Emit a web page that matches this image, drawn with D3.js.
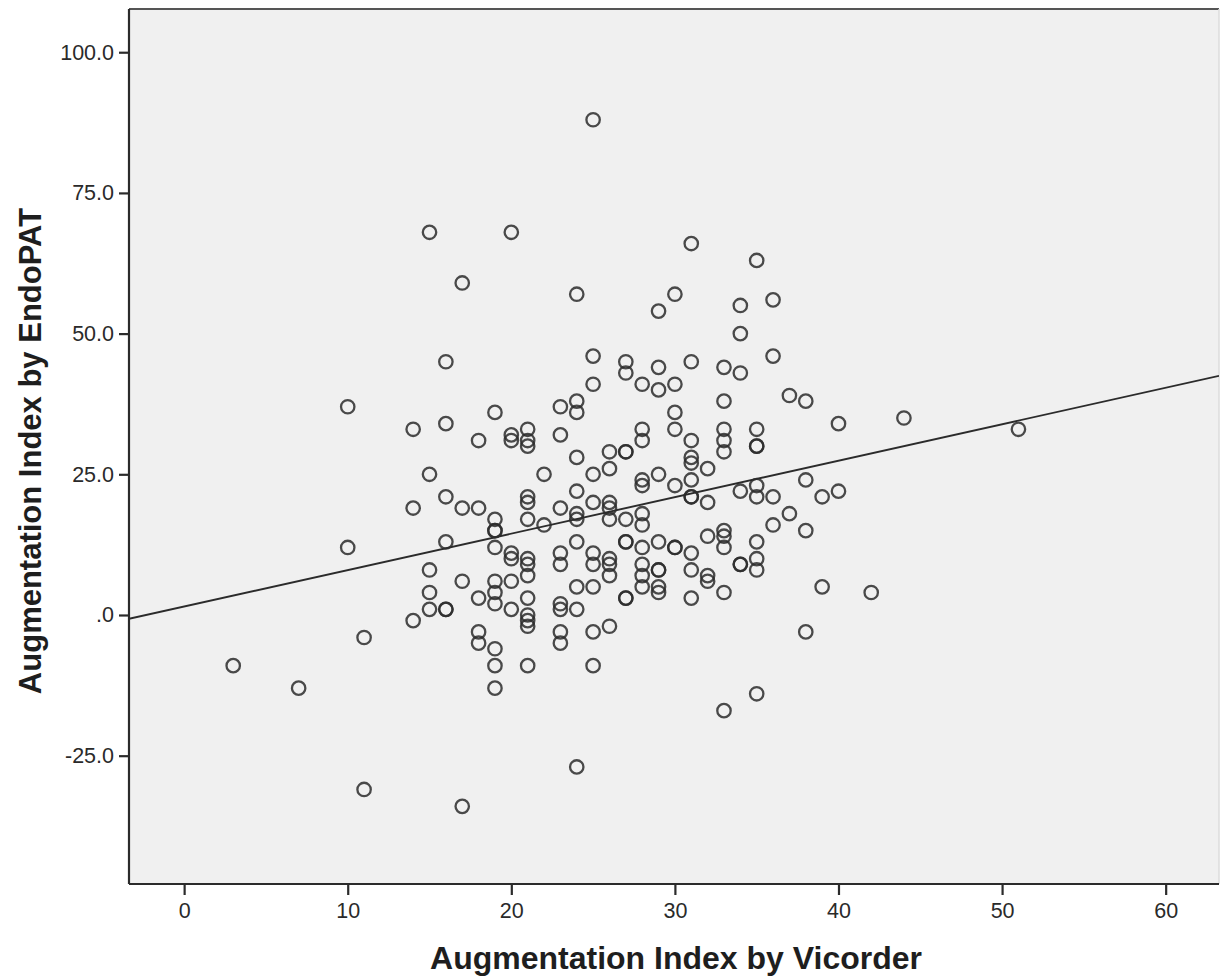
<!DOCTYPE html>
<html>
<head>
<meta charset="utf-8">
<script src="https://cdn.jsdelivr.net/npm/d3@7"></script>
<style>
  html, body { margin: 0; padding: 0; background: #ffffff; }
  svg { display: block; }
</style>
</head>
<body>
<svg id="chart" width="1221" height="977"></svg>
<script>
// Data: [Vicorder AIx, EndoPAT AIx]
const vicorder = [
  3, 7, 10, 10, 11, 11,
  14, 14, 14,
  15, 15, 15, 15, 15,
  16, 16, 16, 16, 16, 16,
  17, 17, 17, 17,
  18, 18, 18, 18, 18,
  19, 19, 19, 19, 19, 19, 19, 19, 19, 19, 19,
  20, 20, 20, 20, 20, 20, 20,
  21, 21, 21, 21, 21, 21, 21, 21, 21, 21, 21, 21, 21, 21,
  22, 22,
  23, 23, 23, 23, 23, 23, 23, 23, 23,
  24, 24, 24, 24, 24, 24, 24, 24, 24, 24, 24,
  25, 25, 25, 25, 25, 25, 25, 25, 25, 25,
  26, 26, 26, 26, 26, 26, 26, 26, 26,
  27, 27, 27, 27, 27, 27, 27, 27, 27,
  28, 28, 28, 28, 28, 28, 28, 28, 28, 28, 28,
  29, 29, 29, 29, 29, 29, 29, 29, 29,
  30, 30, 30, 30, 30, 30, 30,
  31, 31, 31, 31, 31, 31, 31, 31, 31, 31, 31,
  32, 32, 32, 32, 32,
  33, 33, 33, 33, 33, 33, 33, 33, 33, 33,
  34, 34, 34, 34, 34, 34,
  35, 35, 35, 35, 35, 35, 35, 35, 35, 35,
  36, 36, 36, 36,
  37, 37,
  38, 38, 38, 38,
  39, 39,
  40, 40,
  42, 44, 51
];
const endopat = [
  -9, -13, 37, 12, -4, -31,
  33, 19, -1,
  68, 25, 8, 4, 1,
  45, 34, 21, 13, 1, 1,
  59, 19, 6, -34,
  31, 19, 3, -3, -5,
  36, 17, 15, 15, 12, 6, 4, 2, -6, -9, -13,
  68, 32, 31, 11, 10, 6, 1,
  33, 31, 30, 21, 20, 17, 10, 9, 7, 3, 0, -1, -2, -9,
  25, 16,
  37, 32, 19, 11, 9, 2, 1, -3, -5,
  57, 38, 36, 28, 22, 18, 17, 13, 5, 1, -27,
  88, 46, 41, 25, 20, 11, 9, 5, -3, -9,
  29, 26, 20, 19, 17, 10, 9, 7, -2,
  45, 43, 29, 29, 17, 13, 13, 3, 3,
  41, 33, 31, 24, 23, 18, 16, 12, 9, 7, 5,
  54, 44, 40, 25, 13, 8, 8, 5, 4,
  57, 41, 36, 33, 23, 12, 12,
  66, 45, 31, 28, 27, 24, 21, 21, 11, 8, 3,
  26, 20, 14, 7, 6,
  44, 38, 33, 31, 29, 15, 14, 12, 4, -17,
  55, 50, 43, 22, 9, 9,
  63, 33, 30, 30, 23, 21, 13, 10, 8, -14,
  56, 46, 21, 16,
  39, 18,
  38, 24, 15, -3,
  21, 5,
  34, 22,
  4, 35, 33
];
// Fit line: y = intercept + slope * x
const fitIntercept = 1.5;
const fitSlope = 0.648;
const xTicks = [0, 10, 20, 30, 40, 50, 60];
const yTicks = [-25, 0, 25, 50, 75, 100];
const xTitle = "Augmentation Index by Vicorder";
const yTitle = "Augmentation Index by EndoPAT";

const svg = d3.select("#chart");
const pL = 129, pR = 1219, pT = 9, pB = 884;
const x = d3.scaleLinear().domain([-3.37, 63.26]).range([pL, pR]);
const y = d3.scaleLinear().domain([-47.8, 107.68]).range([pB, pT]);

const ink = "#2b2b2b";
const font = "'Liberation Sans', Arial, sans-serif";

// plot background
svg.append("rect")
  .attr("x", pL).attr("y", pT)
  .attr("width", pR - pL).attr("height", pB - pT)
  .attr("fill", "#f0f0f0");

// top & right frame
svg.append("line").attr("x1", pL).attr("x2", pR).attr("y1", pT).attr("y2", pT)
  .attr("stroke", "#555").attr("stroke-width", 2);
svg.append("line").attr("x1", pR).attr("x2", pR).attr("y1", pT).attr("y2", pB)
  .attr("stroke", "#dcdcdc").attr("stroke-width", 1.5);

// clip for data
svg.append("clipPath").attr("id", "clip").append("rect")
  .attr("x", pL).attr("y", pT).attr("width", pR - pL).attr("height", pB - pT);

const plot = svg.append("g").attr("clip-path", "url(#clip)");

// fit line
const [x0, x1] = x.domain();
plot.append("line")
  .attr("x1", x(x0)).attr("y1", y(fitIntercept + fitSlope * x0))
  .attr("x2", x(x1)).attr("y2", y(fitIntercept + fitSlope * x1))
  .attr("stroke", ink).attr("stroke-width", 1.9);

// points
const pts = vicorder.map((v, i) => ({ x: v, y: endopat[i] }));
plot.selectAll("circle.pt").data(pts).enter().append("circle")
  .attr("class", "pt")
  .attr("cx", d => x(d.x)).attr("cy", d => y(d.y))
  .attr("r", 6.7)
  .attr("fill", "none")
  .attr("stroke", ink).attr("stroke-opacity", 0.85)
  .attr("stroke-width", 2.3);

// axes
const xAxis = d3.axisBottom(x).tickValues(xTicks).tickSize(11).tickPadding(8)
  .tickFormat(d => String(d));
const yAxis = d3.axisLeft(y).tickValues(yTicks).tickSize(10).tickPadding(5)
  .tickFormat(d => d === 0 ? ".0" : d.toFixed(1));

const gx = svg.append("g").attr("transform", `translate(0,${pB})`).call(xAxis);
const gy = svg.append("g").attr("transform", `translate(${pL},0)`).call(yAxis);

[gx, gy].forEach(g => {
  g.select(".domain").attr("stroke", ink).attr("stroke-width", 2.2);
  g.selectAll(".tick line").attr("stroke", ink).attr("stroke-width", 2.2);
  g.selectAll(".tick text")
    .attr("fill", "#2a2a2a")
    .style("font-family", font)
    .style("font-size", "21.5px");
});
gy.select(".domain").attr("d", `M0,${pB}V${pT}`);
gx.select(".domain").attr("d", `M${pL},0H${pR}`);

// titles
svg.append("text")
  .attr("x", 676).attr("y", 969)
  .attr("text-anchor", "middle")
  .style("font-family", font)
  .style("font-weight", "bold").style("font-size", "32px")
  .attr("fill", "#1e1e1e")
  .text(xTitle);

svg.append("text")
  .attr("transform", `translate(41,451) rotate(-90)`)
  .attr("text-anchor", "middle")
  .style("font-family", font)
  .style("font-weight", "bold").style("font-size", "31px")
  .attr("fill", "#1e1e1e")
  .text(yTitle);
</script>
</body>
</html>
